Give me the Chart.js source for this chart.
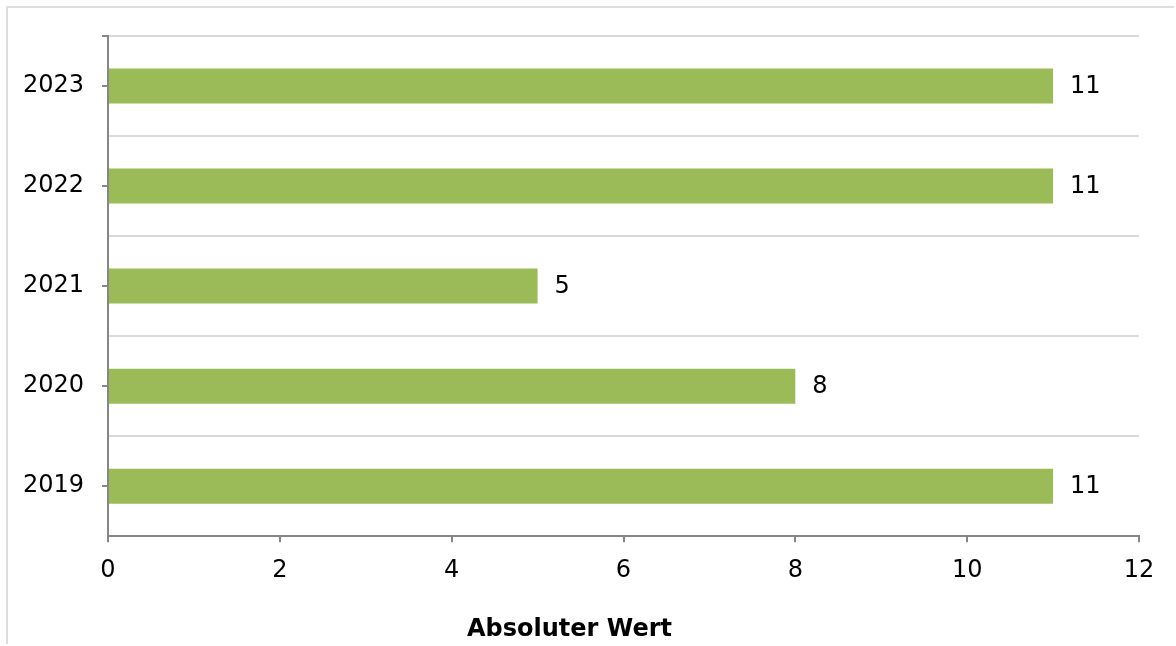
<!DOCTYPE html>
<html>
<head>
<meta charset="utf-8">
<script src="https://cdn.jsdelivr.net/npm/chart.js@4/dist/chart.umd.min.js"></script>
<style>
  html, body { margin: 0; padding: 0; background: #fff; overflow: hidden; }
  #rahmen {
    position: absolute; left: 6px; top: 6px; width: 1166px; height: 636px;
    border-left: 2px solid #dedede; border-top: 2px solid #dedede;
  }
  #wrap { position: absolute; left: 0; top: 0; width: 1176px; height: 646px; }
</style>
</head>
<body>
<div id="rahmen"></div>
<div id="wrap"><canvas id="grafik" width="1176" height="646"></canvas></div>
<script>
// Daten
const jahre = ['2019', '2020', '2021', '2022', '2023'];
const werte = [11, 8, 5, 11, 11];
const xTicks = [0, 2, 4, 6, 8, 10, 12];
const achsenTitel = 'Absoluter Wert';

const schrift = '"DejaVu Sans", Verdana, sans-serif';
const grau = '#868686';

// kleine Striche an der Kategorieachse (Mitte jeder Kategorie + oben)
const kategorieStriche = {
  id: 'kategorieStriche',
  afterDraw(chart) {
    const y = chart.scales.y;
    const ctx = chart.ctx;
    const x0 = chart.chartArea.left;
    ctx.save();
    ctx.strokeStyle = grau;
    ctx.lineWidth = 2;
    ctx.beginPath();
    y.ticks.forEach((t, i) => {
      const py = Math.round(y.getPixelForTick(i));
      ctx.moveTo(x0 - 6, py);
      ctx.lineTo(x0, py);
    });
    ctx.moveTo(x0 - 6, chart.chartArea.top);
    ctx.lineTo(x0, chart.chartArea.top);
    ctx.stroke();
    ctx.restore();
  }
};

// Werte rechts neben den Balken
const balkenWerte = {
  id: 'balkenWerte',
  afterDatasetsDraw(chart) {
    const ctx = chart.ctx;
    const meta = chart.getDatasetMeta(0);
    ctx.save();
    ctx.font = '24px ' + schrift;
    ctx.fillStyle = '#000';
    ctx.textAlign = 'left';
    ctx.textBaseline = 'middle';
    meta.data.forEach((bar, i) => {
      ctx.fillText(String(werte[i]), bar.x + 17, bar.y + 1);
    });
    ctx.restore();
  }
};

new Chart(document.getElementById('grafik'), {
  type: 'bar',
  data: {
    labels: jahre,
    datasets: [{
      data: werte,
      backgroundColor: '#9BBB59',
      borderWidth: 0,
      barPercentage: 0.35,
      categoryPercentage: 1
    }]
  },
  options: {
    indexAxis: 'y',
    responsive: false,
    animation: false,
    layout: { padding: { top: 36, right: 37, left: 0, bottom: 0 } },
    plugins: {
      legend: { display: false },
      tooltip: { enabled: false },
      title: {
        display: true,
        position: 'bottom',
        text: achsenTitel,
        color: '#000',
        font: { family: schrift, size: 24, weight: 'bold' },
        padding: { top: 0, bottom: 2 }
      }
    },
    scales: {
      x: {
        min: xTicks[0],
        max: xTicks[xTicks.length - 1],
        afterBuildTicks(scale) {
          scale.ticks = xTicks.map(v => ({ value: v }));
        },
        afterFit(scale) { scale.height = 79; },
        grid: {
          drawOnChartArea: false,
          drawTicks: true,
          tickLength: 6,
          color: grau,
          lineWidth: 2
        },
        border: { color: grau, width: 2 },
        ticks: {
          color: '#000',
          padding: 14,
          maxRotation: 0,
          font: { family: schrift, size: 24 }
        }
      },
      y: {
        reverse: true,
        afterFit(scale) {
          scale.width = 108;
          scale.paddingTop = 0;
          scale.paddingBottom = 0;
        },
        grid: {
          offset: true,
          drawTicks: false,
          color: '#d9d9d9',
          lineWidth: 2
        },
        border: { color: grau, width: 2 },
        ticks: {
          color: '#000',
          padding: 24,
          font: { family: schrift, size: 24 }
        }
      }
    }
  },
  plugins: [kategorieStriche, balkenWerte]
});
</script>
</body>
</html>
